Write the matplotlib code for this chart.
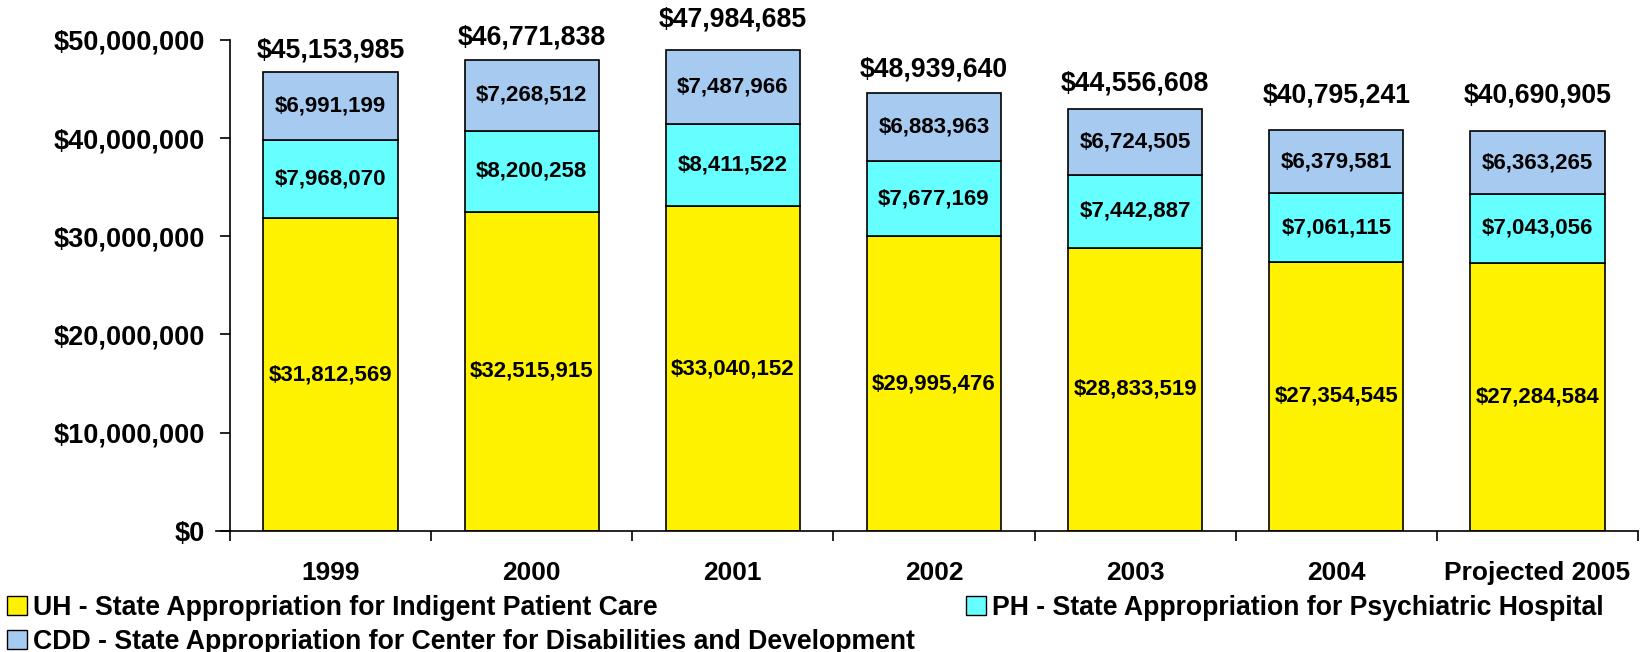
import matplotlib
matplotlib.use('Agg')
import numpy as np
from matplotlib import pyplot as plt
from matplotlib.patches import Patch
from matplotlib.ticker import FuncFormatter, MultipleLocator

plt.rcParams['font.family'] = ['Liberation Sans', 'DejaVu Sans']
plt.rcParams['font.weight'] = 'bold'

years = ['1999', '2000', '2001', '2002', '2003', '2004', 'Projected 2005']
uh = [31812569, 32515915, 33040152, 29995476, 28833519, 27354545, 27284584]
ph = [7968070, 8200258, 8411522, 7677169, 7442887, 7061115, 7043056]
cdd = [6991199, 7268512, 7487966, 6883963, 6724505, 6379581, 6363265]
# totals as printed on the chart (they are shifted for the early years)
top_labels = ['$45,153,985', '$46,771,838', '$47,984,685', '$48,939,640',
              '$44,556,608', '$40,795,241', '$40,690,905']
top_pad = [15, 16, 22, 17, 18, 25, 26]  # points above bar top

names = ['UH - State Appropriation for Indigent Patient Care',
         'PH - State Appropriation for Psychiatric Hospital',
         'CDD - State Appropriation for Center for Disabilities and Development']
colors = ['#FFF200', '#66FFFF', '#A6CAF0']

x = np.arange(len(years))
w = 0.667
uh = np.array(uh); ph = np.array(ph); cdd = np.array(cdd)

fig = plt.figure(figsize=(16.42, 6.52), dpi=100)
ax = fig.add_axes([0.140, 0.186, 0.8576, 0.7527])

segs = [(uh, np.zeros(len(x))), (ph, uh), (cdd, uh + ph)]
for (vals, bottom), c in zip(segs, colors):
    ax.bar(x, vals, w, bottom=bottom, color=c, edgecolor='black', linewidth=1.2, zorder=2)
    for xi, v, b in zip(x, vals, bottom):
        ax.text(xi, b + v / 2, '${:,}'.format(int(v)), ha='center', va='center',
                fontsize=16, fontweight='bold', zorder=3)

tops = uh + ph + cdd
for xi, t, lab, p in zip(x, tops, top_labels, top_pad):
    ax.annotate(lab, (xi, t), xytext=(0, p), textcoords='offset points',
                ha='center', va='center', fontsize=19.2, fontweight='bold',
                annotation_clip=False)

ax.set_xlim(-0.5, len(x) - 0.5)
ax.set_ylim(0, 50000000)
ax.yaxis.set_major_locator(MultipleLocator(10000000))
ax.yaxis.set_major_formatter(FuncFormatter(lambda v, pos: '${:,}'.format(int(v))))
ax.set_xticks(x)
ax.set_xticklabels(years)
ax.set_xticks(np.arange(-0.5, len(x)), minor=True)
ax.tick_params(axis='x', which='major', length=0, pad=22, labelsize=19)
ax.tick_params(axis='x', which='minor', length=7, width=1.2, direction='out')
ax.tick_params(axis='y', length=7, width=1.2, direction='out', labelsize=19.5, pad=11)
for lab in ax.get_xticklabels() + ax.get_yticklabels():
    lab.set_fontweight('bold')
ax.spines['top'].set_visible(False)
ax.spines['right'].set_visible(False)
ax.spines['left'].set_linewidth(1.2)
ax.spines['bottom'].set_linewidth(1.2)
ax.spines['bottom'].set_bounds(-0.5 - 0.07, len(x) - 0.5)

handles = [Patch(facecolor=c, edgecolor='black', linewidth=1) for c in colors]
order = [0, 2, 1]
fig.legend([handles[i] for i in order], [names[i] for i in order],
           loc='lower left', bbox_to_anchor=(0.004, -0.004), ncol=2, frameon=False,
           handlelength=0.75, handleheight=0.75, handletextpad=0.25,
           columnspacing=1.9, labelspacing=0.3, borderaxespad=0, borderpad=0,
           prop={'weight': 'bold', 'size': 19.2})

fig.savefig('out.png', dpi=100)
